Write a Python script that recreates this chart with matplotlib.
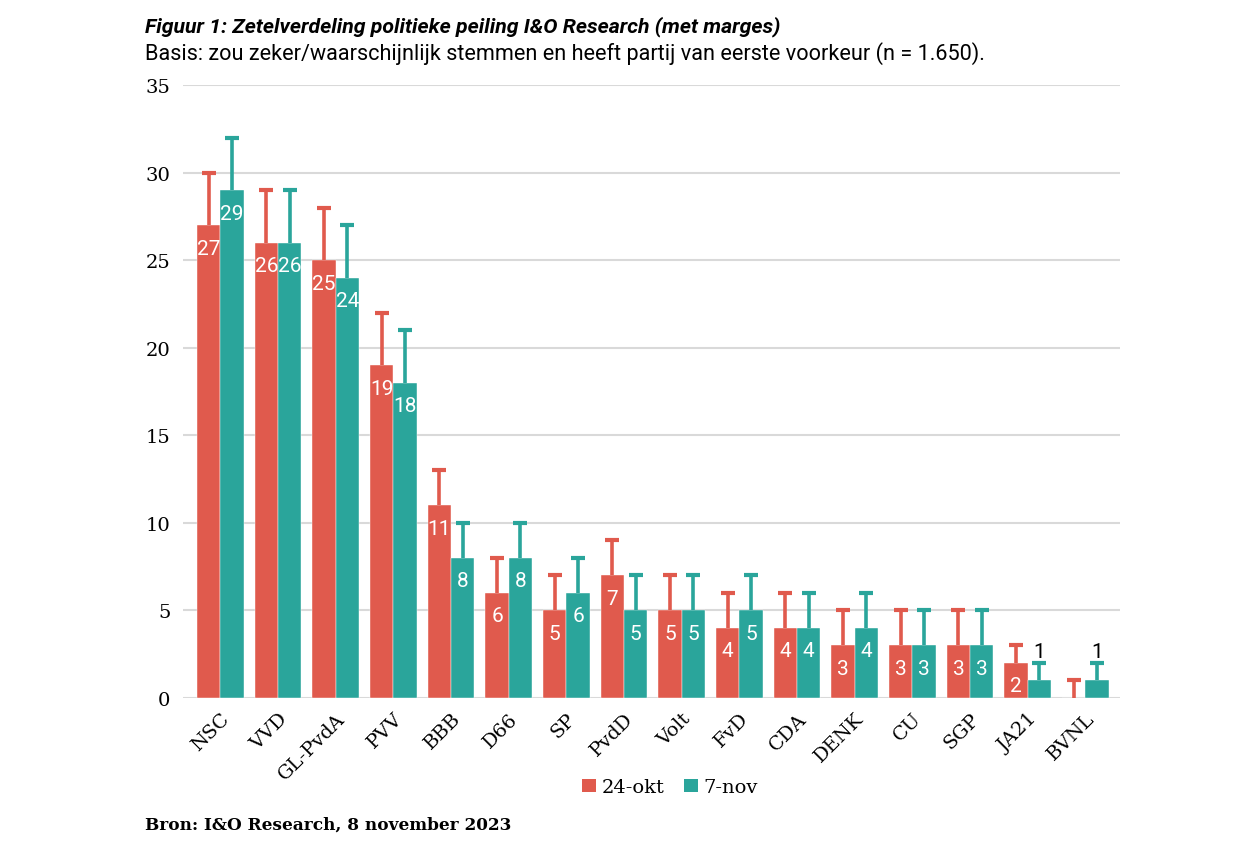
import matplotlib
matplotlib.use("Agg")
import matplotlib.pyplot as plt
import numpy as np
from matplotlib.patches import Patch

parties = ["NSC", "VVD", "GL-PvdA", "PVV", "BBB", "D66", "SP", "PvdD", "Volt",
           "FvD", "CDA", "DENK", "CU", "SGP", "JA21", "BVNL"]
okt = [27, 26, 25, 19, 11, 6, 5, 7, 5, 4, 4, 3, 3, 3, 2, 0]
okt_high = [30, 29, 28, 22, 13, 8, 7, 9, 7, 6, 6, 5, 5, 5, 3, 1]
nov = [29, 26, 24, 18, 8, 8, 6, 5, 5, 5, 4, 4, 3, 3, 1, 1]
nov_high = [32, 29, 27, 21, 10, 10, 8, 7, 7, 7, 6, 6, 5, 5, 2, 2]
series_names = ["24-okt", "7-nov"]
yticks = [0, 5, 10, 15, 20, 25, 30, 35]

RED = "#e05a4d"
TEAL = "#2aa59b"

fig = plt.figure(figsize=(12.5, 8.45), dpi=100)
ax = fig.add_axes([0.1464, 0.1728, 0.896 - 0.1464, 0.8982 - 0.1728])

x = np.arange(len(parties))
w = 0.405
for vals, highs, off, col in [(okt, okt_high, -w / 2, RED), (nov, nov_high, w / 2, TEAL)]:
    vals = np.array(vals)
    highs = np.array(highs)
    xs = x + off
    ax.bar(xs, vals, width=w, color=col, edgecolor="white", linewidth=0.3, zorder=2)
    ax.vlines(xs, vals, highs, color=col, linewidth=2.6, zorder=3)
    ax.plot(xs, highs, linestyle="none", marker="_", markersize=10,
            markeredgewidth=3, color=col, zorder=3)
    for xi, v in zip(xs, vals):
        if v >= 2:
            ax.annotate(str(v), (xi, v), xytext=(0, -16.5), textcoords="offset points",
                        ha="center", va="center", color="white", fontsize=15,
                        family="Roboto", zorder=4)
        elif v == 1:
            ax.annotate(str(v), (xi, v), xytext=(0, 21), textcoords="offset points",
                        ha="center", va="center", color="black", fontsize=15,
                        family="Roboto", zorder=4)

ax.set_ylim(0, 35)
ax.set_xlim(-0.65, len(parties) - 1 + 0.6)
ax.set_yticks(yticks)
ax.set_yticklabels([str(t) for t in yticks], family="DejaVu Serif", fontsize=14)
ax.set_xticks(x)
ax.set_xticklabels(parties, rotation=45, ha="right", rotation_mode="anchor",
                   family="DejaVu Serif", fontsize=14)
ax.tick_params(length=0, pad=9, axis="y")
ax.tick_params(length=0, pad=8, axis="x")
ax.grid(axis="y", color="#d9d9d9", linewidth=1.5, zorder=0)
ax.set_axisbelow(True)
for s in ax.spines.values():
    s.set_visible(False)

fig.text(0.116, 0.968, "Figuur 1: Zetelverdeling politieke peiling I&O Research (met marges)",
         family="Roboto", weight="bold", style="italic", fontsize=15.3, va="center")
fig.text(0.116, 0.937, "Basis: zou zeker/waarschijnlijk stemmen en heeft partij van eerste voorkeur (n = 1.650).",
         family="Roboto", fontsize=15.6, va="center")
fig.text(0.116, 0.024, "Bron: I&O Research, 8 november 2023",
         family="DejaVu Serif", weight="bold", fontsize=12.2, va="center")

handles = [Patch(facecolor=RED), Patch(facecolor=TEAL)]
fig.legend(handles, series_names, loc="center", bbox_to_anchor=(0.536, 0.067),
           ncol=2, frameon=False, prop={"family": "DejaVu Serif", "size": 14},
           handlelength=0.7, handleheight=0.7, handletextpad=0.3, columnspacing=1.0)

fig.savefig("out.png", dpi=100)
